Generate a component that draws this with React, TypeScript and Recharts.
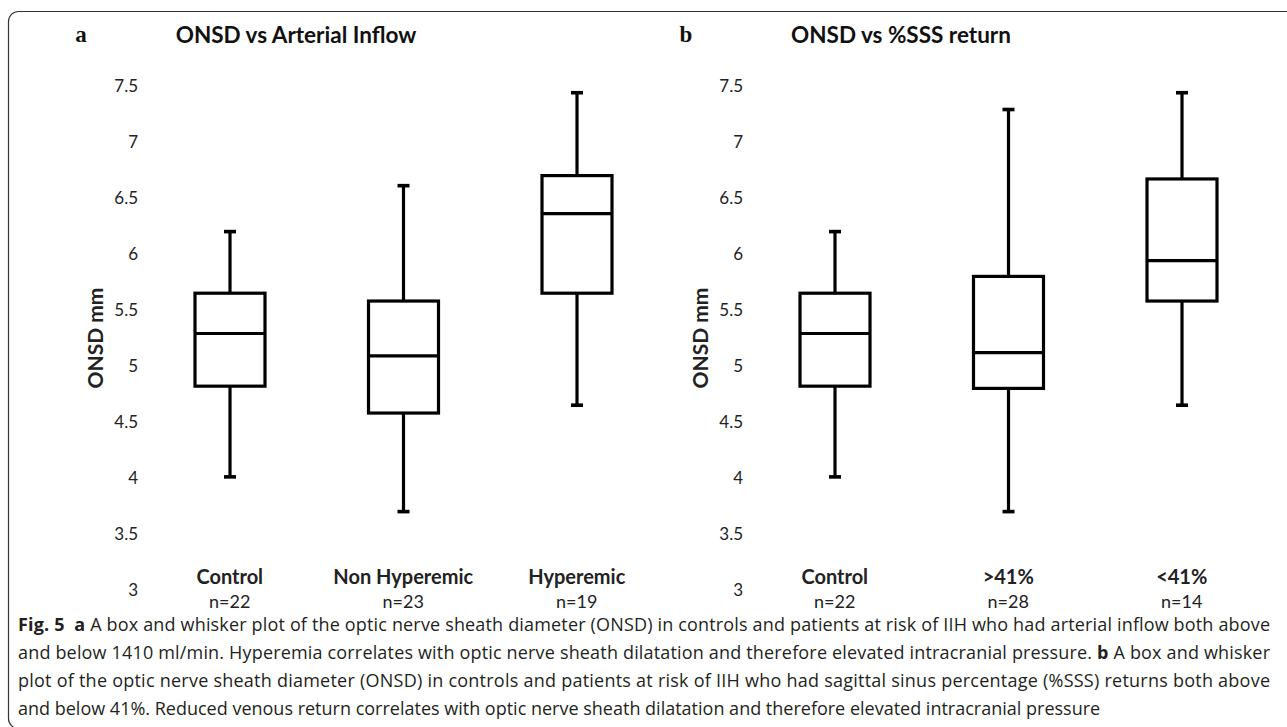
import React from 'react';
import { ComposedChart, Bar, XAxis, YAxis } from 'recharts';

// ---------- data ----------
const groupsA = ['Control', 'Non Hyperemic', 'Hyperemic'];
const countsA = ['n=22', 'n=23', 'n=19'];
const minA = [4.01, 3.7, 4.65];
const q1A = [4.82, 4.58, 5.65];
const medA = [5.29, 5.09, 6.36];
const q3A = [5.65, 5.58, 6.7];
const maxA = [6.2, 6.61, 7.44];

const groupsB = ['Control', '>41%', '<41%'];
const countsB = ['n=22', 'n=28', 'n=14'];
const minB = [4.01, 3.7, 4.65];
const q1B = [4.82, 4.8, 5.58];
const medB = [5.29, 5.12, 5.94];
const q3B = [5.65, 5.8, 6.67];
const maxB = [6.2, 7.29, 7.44];

const yTicks = [3, 3.5, 4, 4.5, 5, 5.5, 6, 6.5, 7, 7.5];
const yDomain = [3, 7.5];

const titleA = 'ONSD vs Arterial Inflow';
const titleB = 'ONSD vs %SSS return';
const yLabel = 'ONSD mm';

const FONT = "Lato, 'Open Sans', sans-serif";
const CAP_FONT = "'Open Sans', 'Noto Sans', sans-serif";

type Row = {
  name: string;
  count: string;
  range: [number, number];
  min: number;
  q1: number;
  median: number;
  q3: number;
  max: number;
};

const buildRows = (
  groups: string[],
  counts: string[],
  mins: number[],
  q1s: number[],
  meds: number[],
  q3s: number[],
  maxs: number[]
): Row[] =>
  groups.map((g, i) => ({
    name: g,
    count: counts[i],
    range: [mins[i], maxs[i]],
    min: mins[i],
    q1: q1s[i],
    median: meds[i],
    q3: q3s[i],
    max: maxs[i],
  }));

const rowsA = buildRows(groupsA, countsA, minA, q1A, medA, q3A, maxA);
const rowsB = buildRows(groupsB, countsB, minB, q1B, medB, q3B, maxB);

// ---------- shapes ----------
function BoxShape(props: any) {
  const { x, y, width, height, payload } = props;
  if (!payload || height == null) return null;
  const top = Math.min(y, y + height);
  const h = Math.abs(height);
  const { min, max, q1, median, q3 } = payload as Row;
  const px = (v: number) => top + ((max - v) / (max - min)) * h;
  const cx = x + width / 2;
  const sw = 3.2;
  const cap = 6;
  return (
    <g>
      <line x1={cx} x2={cx} y1={px(max)} y2={px(q3)} stroke="#000" strokeWidth={sw} />
      <line x1={cx} x2={cx} y1={px(q1)} y2={px(min)} stroke="#000" strokeWidth={sw} />
      <line x1={cx - cap} x2={cx + cap} y1={px(max)} y2={px(max)} stroke="#000" strokeWidth={3.6} />
      <line x1={cx - cap} x2={cx + cap} y1={px(min)} y2={px(min)} stroke="#000" strokeWidth={3.6} />
      <rect
        x={x}
        y={px(q3)}
        width={width}
        height={px(q1) - px(q3)}
        fill="#fff"
        stroke="#000"
        strokeWidth={sw}
      />
      <line x1={x} x2={x + width} y1={px(median)} y2={px(median)} stroke="#000" strokeWidth={sw} />
    </g>
  );
}

function CategoryTick(props: any) {
  const { x, y, payload, rows } = props;
  const row = (rows as Row[]).find((r) => r.name === payload.value);
  return (
    <g>
      <text
        x={x}
        y={y - 14}
        textAnchor="middle"
        dominantBaseline="central"
        fontFamily={FONT}
        fontWeight="bold"
        fontSize={20}
        fill="#222"
      >
        {payload.value}
      </text>
      <text
        x={x}
        y={y + 11}
        textAnchor="middle"
        dominantBaseline="central"
        fontFamily={FONT}
        fontSize={18}
        fill="#222"
      >
        {row ? row.count : ''}
      </text>
    </g>
  );
}

function YLabel(props: any) {
  const vb = props.viewBox || { x: 0, y: 0, width: 0, height: 0 };
  const cx = vb.x + 11;
  const cy = vb.y + vb.height / 2;
  return (
    <text
      x={cx}
      y={cy}
      transform={`rotate(-90 ${cx} ${cy})`}
      textAnchor="middle"
      dominantBaseline="central"
      fontFamily={FONT}
      fontWeight="bold"
      fontSize={21}
      fill="#222"
    >
      {yLabel}
    </text>
  );
}

function Panel({ rows, left }: { rows: Row[]; left: number }) {
  return (
    <div style={{ position: 'absolute', left, top: 0 }}>
      <ComposedChart
        width={680}
        height={640}
        data={rows}
        margin={{ top: 86, right: 16.5, bottom: 0, left: 83 }}
      >
        <XAxis
          dataKey="name"
          type="category"
          axisLine={false}
          tickLine={false}
          tickSize={0}
          tickMargin={0}
          height={50}
          interval={0}
          tick={<CategoryTick rows={rows} />}
        />
        <YAxis
          type="number"
          domain={yDomain}
          ticks={yTicks}
          interval={0}
          allowDataOverflow
          axisLine={false}
          tickLine={false}
          tickSize={0}
          tickMargin={5}
          width={60}
          tick={{ fill: '#222', fontSize: 17, fontFamily: FONT }}
          label={<YLabel />}
        />
        <Bar dataKey="range" barSize={70} shape={<BoxShape />} isAnimationActive={false} />
      </ComposedChart>
    </div>
  );
}

const capLine1Tail =
  ' A box and whisker plot of the optic nerve sheath diameter (ONSD) in controls and patients at risk of IIH who had arterial inflow both above';
const capLine2Head =
  'and below 1410 ml/min. Hyperemia correlates with optic nerve sheath dilatation and therefore elevated intracranial pressure. ';
const capLine2Tail = ' A box and whisker';
const capLine3 =
  'plot of the optic nerve sheath diameter (ONSD) in controls and patients at risk of IIH who had sagittal sinus percentage (%SSS) returns both above';
const capLine4 =
  'and below 41%. Reduced venous return correlates with optic nerve sheath dilatation and therefore elevated intracranial pressure';

export default function App() {
  const capStyle: React.CSSProperties = { whiteSpace: 'pre' };
  const capX = 18;
  const capW = 1252;
  const capFs = 18;
  const capY = [624, 652, 680, 708];
  return (
    <div
      style={{
        position: 'absolute',
        left: 0,
        top: 0,
        width: 1287,
        height: 727,
        background: '#fff',
        overflow: 'hidden',
      }}
    >
      <Panel rows={rowsA} left={0} />
      <Panel rows={rowsB} left={605} />
      <svg
        width={1287}
        height={727}
        style={{ position: 'absolute', left: 0, top: 0, pointerEvents: 'none' }}
      >
        <rect x={8.5} y={11.5} width={1320} height={717} rx={10} ry={10} fill="none" stroke="#333" strokeWidth={1.2} />
        <text x={81} y={34} textAnchor="middle" dominantBaseline="central" fontFamily="'Liberation Serif', serif" fontWeight="bold" fontSize={23} fill="#111">
          a
        </text>
        <text x={686} y={34} textAnchor="middle" dominantBaseline="central" fontFamily="'Liberation Serif', serif" fontWeight="bold" fontSize={23} fill="#111">
          b
        </text>
        <text x={296} y={34} textAnchor="middle" dominantBaseline="central" fontFamily={FONT} fontWeight="bold" fontSize={22.5} fill="#111">
          {titleA}
        </text>
        <text x={901} y={34} textAnchor="middle" dominantBaseline="central" fontFamily={FONT} fontWeight="bold" fontSize={22.5} fill="#111">
          {titleB}
        </text>

        <text x={capX} y={capY[0]} textLength={capW} lengthAdjust="spacing" dominantBaseline="central" fontFamily={CAP_FONT} fontSize={capFs} fill="#231f20" style={capStyle}>
          <tspan fontWeight="bold">Fig. 5</tspan>
          <tspan>{'  '}</tspan>
          <tspan fontWeight="bold">a</tspan>
          <tspan>{capLine1Tail}</tspan>
        </text>
        <text x={capX} y={capY[1]} textLength={capW} lengthAdjust="spacing" dominantBaseline="central" fontFamily={CAP_FONT} fontSize={capFs} fill="#231f20" style={capStyle}>
          <tspan>{capLine2Head}</tspan>
          <tspan fontWeight="bold">b</tspan>
          <tspan>{capLine2Tail}</tspan>
        </text>
        <text x={capX} y={capY[2]} textLength={capW} lengthAdjust="spacing" dominantBaseline="central" fontFamily={CAP_FONT} fontSize={capFs} fill="#231f20" style={capStyle}>
          {capLine3}
        </text>
        <text x={capX} y={capY[3]} dominantBaseline="central" fontFamily={CAP_FONT} fontSize={capFs} fill="#231f20" style={capStyle}>
          {capLine4}
        </text>
      </svg>
    </div>
  );
}
